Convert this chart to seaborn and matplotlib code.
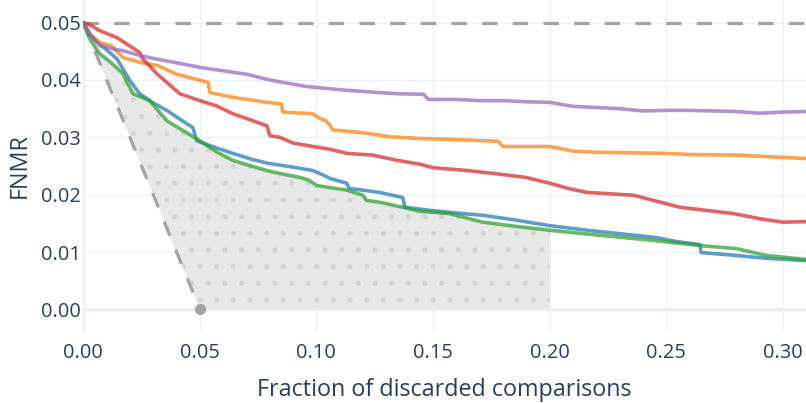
import numpy as np
import pandas as pd
import seaborn as sns
import matplotlib.pyplot as plt

# readings (fraction discarded -> FNMR)
blue_x = [0, 0.003, 0.007, 0.0144, 0.02, 0.0242, 0.03, 0.0358, 0.042, 0.047, 0.0487, 0.056, 0.0642, 0.072,
          0.0788, 0.09, 0.0985, 0.103, 0.106, 0.113, 0.114, 0.127, 0.137, 0.138, 0.15, 0.16, 0.1715, 0.185,
          0.2, 0.216, 0.23, 0.246, 0.2547, 0.2645, 0.265, 0.28, 0.293, 0.31]
blue_y = [0.050, 0.0478, 0.0463, 0.0437, 0.0399, 0.0376, 0.0360, 0.0347, 0.0330, 0.0317, 0.0294, 0.0283,
          0.0272, 0.0262, 0.0255, 0.0248, 0.0242, 0.0234, 0.0228, 0.0220, 0.0211, 0.0204, 0.0195, 0.0178,
          0.0172, 0.0168, 0.0164, 0.0156, 0.0146, 0.0138, 0.0132, 0.0125, 0.0118, 0.0113, 0.0099, 0.0094,
          0.0089, 0.0085]

orange_x = [0, 0.003, 0.007, 0.012, 0.017, 0.025, 0.032, 0.04, 0.0535, 0.0543, 0.064, 0.0788, 0.085,
            0.0856, 0.0985, 0.101, 0.104, 0.106, 0.107, 0.12, 0.1315, 0.144, 0.16, 0.172, 0.178, 0.18, 0.20,
            0.21, 0.22, 0.25, 0.26, 0.28, 0.29, 0.30, 0.31]
orange_y = [0.050, 0.0480, 0.0465, 0.0460, 0.0439, 0.0430, 0.0425, 0.0410, 0.0396, 0.0378, 0.0370, 0.0361,
            0.0358, 0.0344, 0.0341, 0.0334, 0.0329, 0.0320, 0.0313, 0.0308, 0.0301, 0.0298, 0.0296, 0.0294,
            0.0293, 0.0284, 0.0284, 0.0276, 0.0274, 0.0272, 0.0270, 0.0269, 0.0267, 0.0265, 0.0263]

green_x = [0, 0.003, 0.007, 0.012, 0.017, 0.0213, 0.0285, 0.0358, 0.0427, 0.05, 0.057, 0.064, 0.072, 0.0788,
           0.0843, 0.093, 0.097, 0.1, 0.113, 0.12, 0.1215, 0.127, 0.137, 0.1445, 0.157, 0.1715, 0.185, 0.2,
           0.222, 0.245, 0.265, 0.28, 0.293, 0.31]
green_y = [0.050, 0.0470, 0.0446, 0.0430, 0.0411, 0.0376, 0.0364, 0.0329, 0.0312, 0.0294, 0.0275, 0.0260,
           0.0250, 0.0242, 0.0237, 0.0230, 0.0225, 0.0216, 0.0208, 0.0199, 0.0190, 0.0187, 0.0178, 0.0171,
           0.0167, 0.0152, 0.0145, 0.0138, 0.0129, 0.0120, 0.0111, 0.0106, 0.0094, 0.0087]

red_x = [0, 0.003, 0.007, 0.0144, 0.0242, 0.0255, 0.0315, 0.0414, 0.05, 0.057, 0.0642, 0.072, 0.0788, 0.080,
         0.0843, 0.09, 0.0985, 0.106, 0.113, 0.124, 0.1345, 0.1445, 0.150, 0.165, 0.178, 0.190, 0.200, 0.2088,
         0.216, 0.236, 0.2474, 0.256, 0.2788, 0.2903, 0.300, 0.31]
red_y = [0.050, 0.0496, 0.0486, 0.0474, 0.0448, 0.0437, 0.0411, 0.0376, 0.0364, 0.0355, 0.0341, 0.0330,
         0.0320, 0.0303, 0.0300, 0.0290, 0.0284, 0.0279, 0.0272, 0.0269, 0.0260, 0.0253, 0.0247, 0.0242,
         0.0236, 0.0230, 0.0220, 0.0210, 0.0204, 0.0199, 0.0187, 0.0178, 0.0167, 0.0158, 0.0152, 0.0153]

purple_x = [0, 0.003, 0.007, 0.012, 0.018, 0.025, 0.032, 0.04, 0.05, 0.06, 0.07, 0.08, 0.095, 0.10, 0.113,
            0.127, 0.135, 0.146, 0.148, 0.16, 0.17, 0.18, 0.19, 0.20, 0.21, 0.22, 0.23, 0.24, 0.25, 0.26,
            0.27, 0.28, 0.29, 0.30, 0.31]
purple_y = [0.0500, 0.0478, 0.0460, 0.0455, 0.0450, 0.0442, 0.0436, 0.0430, 0.0422, 0.0416, 0.0410, 0.0400,
            0.0389, 0.0387, 0.0382, 0.0378, 0.0376, 0.0375, 0.0366, 0.0366, 0.0364, 0.0364, 0.0362, 0.0361,
            0.0354, 0.0352, 0.0350, 0.0346, 0.0347, 0.0347, 0.0346, 0.0345, 0.0342, 0.0344, 0.0345]

series = ['blue', 'orange', 'green', 'red', 'purple']
colors = ['#1f77b4', '#ff7f0e', '#2ca02c', '#d62728', '#9467bd']
target_fnmr = 0.05
fill_end = 0.2

frames = []
for name, xs, ys in [('blue', blue_x, blue_y), ('orange', orange_x, orange_y), ('green', green_x, green_y),
                     ('red', red_x, red_y), ('purple', purple_x, purple_y)]:
    frames.append(pd.DataFrame({'x': xs, 'y': ys, 'series': name}))
df = pd.concat(frames, ignore_index=True)

sns.set_theme(style='white')
plt.rcParams['font.family'] = ['Open Sans', 'DejaVu Sans']
plt.rcParams['hatch.linewidth'] = 1.2

fig = plt.figure(figsize=(8.06, 4.03), dpi=100)
ax = fig.add_axes([83.3 / 806, (403 - 331.7) / 403, (806 - 83.3) / 806, 331.7 / 403])

grid_c = '#ebf0f8'
for t in np.arange(0.05, 0.31, 0.05):
    ax.axvline(t, color=grid_c, lw=1, zorder=0)
for t in np.arange(0.01, 0.051, 0.01):
    ax.axhline(t, color=grid_c, lw=1, zorder=0)
ax.axvline(0, color=grid_c, lw=2.5, zorder=0)
ax.axhline(0, color=grid_c, lw=2.5, zorder=0)

# shaded area between the ideal line and the best curve
xx = np.linspace(0, fill_end, 800)
upper = np.interp(xx, green_x, green_y)
lower = np.clip(target_fnmr - xx, 0, None)
ax.fill_between(xx, lower, np.maximum(upper, lower), facecolor='#e8e8e8', edgecolor='#d3d3d3',
                hatch='.', linewidth=0, zorder=1)

ax.plot([0, 0.31], [target_fnmr, target_fnmr], color='#a3a3a3', lw=2.3, dashes=(4.8, 4.8), zorder=2)
ax.plot([0, target_fnmr], [target_fnmr, 0], color='#a3a3a3', lw=2.3, dashes=(4.8, 4.8), zorder=2)
ax.plot([target_fnmr], [0], 'o', color='#a3a3a3', ms=7, zorder=3)

sns.lineplot(data=df, x='x', y='y', hue='series', hue_order=series, palette=colors,
             estimator=None, sort=False, lw=2.6, alpha=0.72,
             legend=False, ax=ax, zorder=4)

ax.set_xlim(0, 0.31)
ax.set_ylim(-0.0039, 0.05395)
ax.set_xticks(np.arange(0, 0.31, 0.05))
ax.set_yticks(np.arange(0, 0.051, 0.01))
ax.set_xticklabels([f'{t:.2f}' for t in np.arange(0, 0.31, 0.05)])
ax.set_yticklabels([f'{t:.2f}' for t in np.arange(0, 0.051, 0.01)])
txt_c = '#2a3f5f'
ax.tick_params(axis='both', length=0, labelsize=14.4, colors=txt_c)
ax.tick_params(axis='x', pad=8)
ax.tick_params(axis='y', pad=1.5)
for s in ax.spines.values():
    s.set_visible(False)
ax.set_xlabel('Fraction of discarded comparisons', fontsize=16.8, color=txt_c, labelpad=11)
ax.set_ylabel('FNMR', fontsize=16.8, color=txt_c, labelpad=7)

fig.savefig('out.png', dpi=100)
